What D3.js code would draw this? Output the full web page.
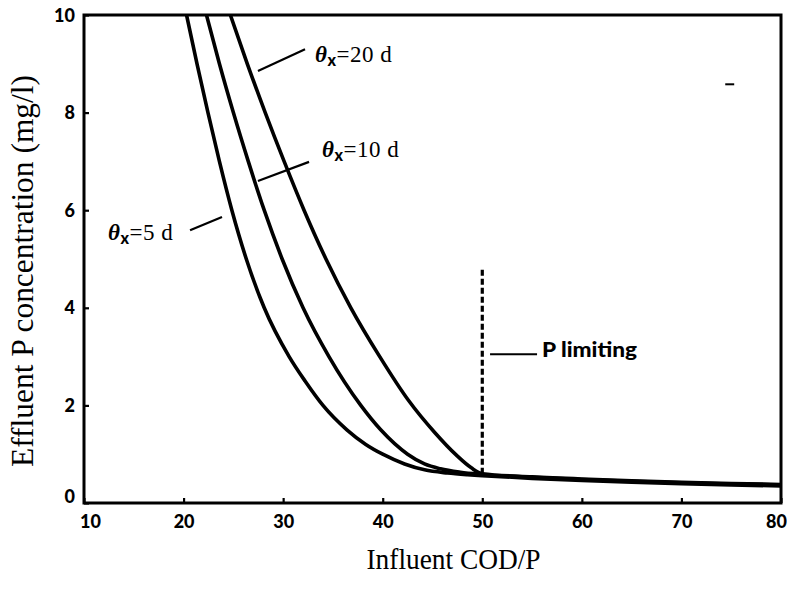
<!DOCTYPE html>
<html>
<head>
<meta charset="utf-8">
<script src="https://cdn.jsdelivr.net/npm/d3@7/dist/d3.min.js"></script>
<style>
  html, body { margin: 0; padding: 0; background: #fff; }
  svg { display: block; }
</style>
</head>
<body>
<svg id="chart" width="787" height="596"></svg>
<script>
// Influent COD/P ratio vs. effluent phosphorus for three sludge ages
const xTicks = [10, 20, 30, 40, 50, 60, 70, 80];
const yTicks = [0, 2, 4, 6, 8, 10];

// θx = 5 d
const sludgeAge5 = [
  [20.3, 10], [21.35, 9.0], [22.45, 8.0], [23.6, 7.0], [24.85, 6.0], [26.3, 5.0],
  [28.1, 4.0], [30.6, 3.0], [32.2, 2.5], [34.0, 2.0], [36.4, 1.5], [38.3, 1.2],
  [40.0, 1.0], [42.2, 0.8], [44.2, 0.68], [46.5, 0.615], [48.5, 0.58], [50.0, 0.56],
  [55, 0.505], [60, 0.46], [65, 0.425], [70, 0.395], [75, 0.37], [80, 0.35]
];
// θx = 10 d
const sludgeAge10 = [
  [22.3, 10], [23.6, 9.0], [25.0, 8.0], [26.5, 7.0], [28.1, 6.0], [29.9, 5.0],
  [32.0, 4.0], [34.6, 3.0], [37.8, 2.0], [39.8, 1.5], [42.5, 1.0], [44.2, 0.8],
  [45.8, 0.7], [47.8, 0.63], [50.0, 0.585], [55, 0.525], [60, 0.48], [65, 0.445],
  [70, 0.415], [75, 0.39], [80, 0.37]
];
// θx = 20 d
const sludgeAge20 = [
  [24.7, 10], [26.4, 9.0], [28.2, 8.0], [30.1, 7.0], [32.1, 6.0], [34.3, 5.0],
  [36.8, 4.0], [39.7, 3.0], [42.6, 2.1], [45.2, 1.45], [47.4, 0.98], [48.9, 0.72],
  [50.0, 0.6], [55, 0.535], [60, 0.49], [65, 0.455], [70, 0.425], [75, 0.4], [80, 0.38]
];
const seriesNames = ["5", "10", "20"];

// P-limiting boundary
const pLimitX = 50;
const pLimitRange = [0.6, 4.82];

const svg = d3.select("#chart");
const margin = { left: 84, right: 6, top: 15, bottom: 93 };
const W = 787, H = 596;
const x = d3.scaleLinear().domain([10, 80]).range([margin.left, W - margin.right]);
const y = d3.scaleLinear().domain([0, 10]).range([H - margin.bottom, margin.top]);

svg.append("clipPath").attr("id", "plot-clip")
  .append("rect")
  .attr("x", x(10)).attr("y", y(10))
  .attr("width", x(80) - x(10)).attr("height", y(0) - y(10));

// curves
const line = d3.line().x(d => x(d[0])).y(d => y(d[1])).curve(d3.curveMonotoneX);
const curves = svg.append("g").attr("clip-path", "url(#plot-clip)");
[sludgeAge5, sludgeAge10, sludgeAge20].forEach((s, i) => {
  curves.append("path")
    .datum(s)
    .attr("d", line)
    .attr("fill", "none")
    .attr("stroke", "#000")
    .attr("stroke-width", 3.6)
    .attr("stroke-linejoin", "round")
    .attr("class", "curve-" + seriesNames[i]);
});

// P limiting dashed line
svg.append("line")
  .attr("x1", x(pLimitX)).attr("x2", x(pLimitX))
  .attr("y1", y(pLimitRange[0])).attr("y2", y(pLimitRange[1]))
  .attr("stroke", "#000").attr("stroke-width", 3.2)
  .attr("stroke-dasharray", "6,3");

// axes
const tickFont = "Lato, 'Open Sans', sans-serif";
const xAxis = d3.axisBottom(x).tickValues(xTicks).tickSize(-5).tickPadding(12).tickFormat(d3.format("d"));
const gx = svg.append("g").attr("transform", `translate(0,${y(0)})`).call(xAxis);
const yAxis = d3.axisLeft(y).tickValues(yTicks).tickSize(-5).tickPadding(9).tickFormat(d3.format("d"));
const gy = svg.append("g").attr("transform", `translate(${x(10)},0)`).call(yAxis);
[gx, gy].forEach(g => {
  g.select(".domain").remove();
  g.selectAll(".tick line").attr("stroke", "#000").attr("stroke-width", 2.2);
  g.selectAll(".tick text")
    .attr("fill", "#000")
    .style("font-family", tickFont)
    .style("font-weight", "900")
    .style("font-size", "18px");
});
gx.selectAll(".tick text").attr("dx", d => d === 10 ? 6 : d === 80 ? -5 : 0);
gy.selectAll(".tick text").attr("dy", d => d === 0 ? "-0.02em" : "0.34em");

// frame
svg.append("rect")
  .attr("x", x(10)).attr("y", y(10))
  .attr("width", x(80) - x(10)).attr("height", y(0) - y(10))
  .attr("fill", "none").attr("stroke", "#000").attr("stroke-width", 3);

// axis titles
svg.append("text")
  .attr("x", (x(10) + x(80)) / 2 + 21)
  .attr("y", 569)
  .attr("text-anchor", "middle")
  .attr("textLength", 174)
  .attr("lengthAdjust", "spacingAndGlyphs")
  .style("font-family", "'Liberation Serif', 'DejaVu Serif', serif")
  .style("font-size", "30px")
  .text("Influent COD/P");

svg.append("text")
  .attr("transform", `translate(33,271) rotate(-90)`)
  .attr("text-anchor", "middle")
  .attr("textLength", 392)
  .attr("lengthAdjust", "spacingAndGlyphs")
  .style("font-family", "'Liberation Serif', 'DejaVu Serif', serif")
  .style("font-size", "31px")
  .text("Effluent P concentration (mg/l)");

// sludge-age labels with leader lines
const annotations = [
  { name: "20", lead: [[27.47, 8.85], [32.2, 9.3]], at: [33.2, 9.04] },
  { name: "10", lead: [[27.47, 6.6], [32.6, 6.99]], at: [33.9, 7.09] },
  { name: "5",  lead: [[20.65, 5.59], [23.86, 5.86]], at: [12.41, 5.39] }
];
annotations.forEach(a => {
  svg.append("line")
    .attr("x1", x(a.lead[0][0])).attr("y1", y(a.lead[0][1]))
    .attr("x2", x(a.lead[1][0])).attr("y2", y(a.lead[1][1]))
    .attr("stroke", "#000").attr("stroke-width", 2.2);
  const t = svg.append("text")
    .attr("x", x(a.at[0])).attr("y", y(a.at[1]))
    .style("font-family", "'Liberation Serif', 'DejaVu Serif', serif")
    .style("font-size", "23px")
    .style("letter-spacing", "0.5px");
  t.append("tspan").style("font-style", "italic").style("font-weight", "700").text("θ");
  t.append("tspan").attr("dy", 4).style("font-size", "16px")
    .style("font-family", "Lato, sans-serif").style("font-weight", "900").text("x");
  t.append("tspan").attr("dy", -4).text("=" + a.name + "\u00a0d");
});

// P limiting label
svg.append("line")
  .attr("x1", x(50.78)).attr("x2", x(55.5))
  .attr("y1", y(3.05)).attr("y2", y(3.05))
  .attr("stroke", "#000").attr("stroke-width", 2);
svg.append("text")
  .attr("x", x(56.0)).attr("y", y(3.0))
  .attr("textLength", 95)
  .attr("lengthAdjust", "spacingAndGlyphs")
  .style("font-family", tickFont)
  .style("font-weight", "900")
  .style("font-size", "20px")
  .text("P limiting");

// small stroke near top right
svg.append("line")
  .attr("x1", x(74.4)).attr("x2", x(75.3))
  .attr("y1", y(8.58)).attr("y2", y(8.58))
  .attr("stroke", "#000").attr("stroke-width", 2);
</script>
</body>
</html>
